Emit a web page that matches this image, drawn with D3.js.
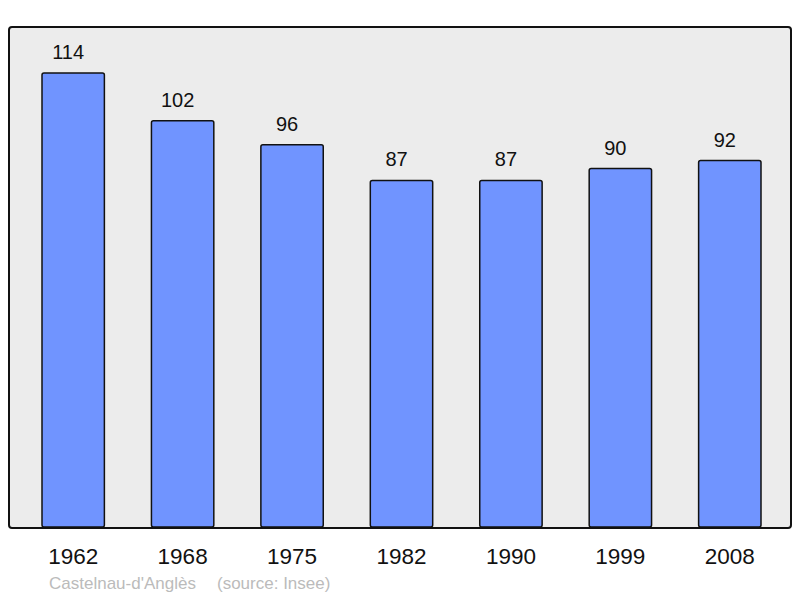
<!DOCTYPE html>
<html>
<head>
<meta charset="utf-8">
<script src="https://cdn.jsdelivr.net/npm/d3@7"></script>
<style>
  body { margin: 0; background: #fff; }
  svg { display: block; font-family: "Liberation Sans", Arial, sans-serif; }
</style>
</head>
<body>
<svg id="chart" width="800" height="598"></svg>
<script>
const years = ["1962", "1968", "1975", "1982", "1990", "1999", "2008"];
const population = [114, 102, 96, 87, 87, 90, 92];
const place = "Castelnau-d'Anglès";
const source = "(source: Insee)";

const svg = d3.select("#chart");

// plot frame
svg.append("rect")
    .attr("x", 9)
    .attr("y", 27)
    .attr("width", 782)
    .attr("height", 501)
    .attr("rx", 3)
    .attr("fill", "#ececec")
    .attr("stroke", "#111")
    .attr("stroke-width", 2);

const x = d3.scaleBand()
    .domain(years)
    .range([42, 761])
    .paddingInner(0.43)
    .paddingOuter(0);

const y = d3.scaleLinear()
    .domain([0, 120])
    .range([527, 527 - 3.983 * 120]);

const data = years.map((yr, i) => ({ year: yr, value: population[i] }));

svg.selectAll("rect.bar")
    .data(data)
    .join("rect")
    .attr("class", "bar")
    .attr("x", d => x(d.year))
    .attr("y", d => y(d.value))
    .attr("width", x.bandwidth())
    .attr("height", d => y(0) - y(d.value))
    .attr("rx", 2)
    .attr("fill", "#7094ff")
    .attr("stroke", "#111")
    .attr("stroke-width", 1.5);

// value labels (sit a little left of bar centre, as in the original)
svg.selectAll("text.val")
    .data(data)
    .join("text")
    .attr("class", "val")
    .attr("x", d => x(d.year) + x.bandwidth() / 2 - 5)
    .attr("y", d => y(d.value) - 14)
    .attr("text-anchor", "middle")
    .attr("font-size", 20)
    .attr("fill", "#111")
    .text(d => d.value);

// year labels
svg.selectAll("text.yr")
    .data(data)
    .join("text")
    .attr("class", "yr")
    .attr("x", d => x(d.year) + x.bandwidth() / 2)
    .attr("y", 564)
    .attr("text-anchor", "middle")
    .attr("font-size", 22.5)
    .attr("fill", "#111")
    .text(d => d.year);

// footer
svg.append("text")
    .attr("x", 49)
    .attr("y", 589)
    .attr("font-size", 17)
    .attr("fill", "#bbb")
    .text(place);

svg.append("text")
    .attr("x", 217)
    .attr("y", 589)
    .attr("font-size", 17)
    .attr("fill", "#bbb")
    .text(source);
</script>
</body>
</html>
